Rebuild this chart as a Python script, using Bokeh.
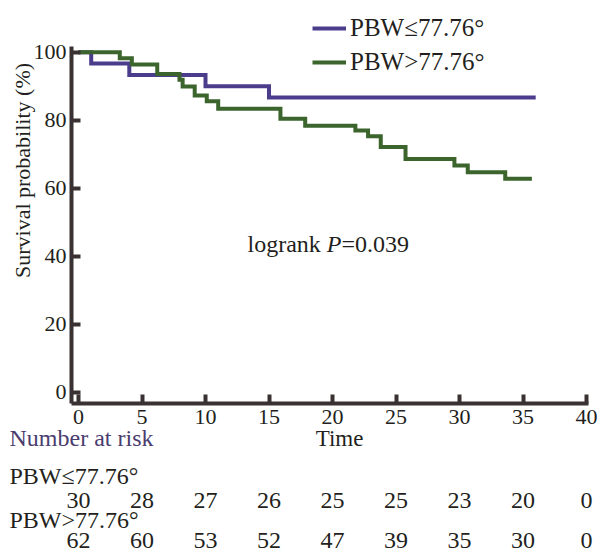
import math
from bokeh.plotting import figure
from bokeh.models import (Range1d, Legend, LegendItem, Label, FixedTicker,
                          LinearAxis)
from bokeh.embed import file_html
from bokeh.resources import INLINE
from bokeh.core.properties import value

# ---------------- data ----------------
grp1_name = "PBW\u226477.76\u00b0"
grp2_name = "PBW>77.76\u00b0"

grp1_time = [0, 1, 4, 10, 15, 36]
grp1_surv = [100, 96.7, 93.3, 90.0, 86.7, 86.7]

grp2_time = [0, 3.25, 4.2, 6.2, 7.95, 8.2, 9.15, 10.1, 11.0, 15.9, 17.85,
             21.8, 22.8, 23.8, 25.75, 29.6, 30.65, 33.6, 35.7]
grp2_surv = [100, 98.2, 96.4, 93.6, 91.9, 89.9, 87.3, 85.6, 83.4, 80.4, 78.4,
             77.0, 75.3, 72.1, 68.6, 66.7, 64.7, 62.8, 62.8]

x_ticks = [0, 5, 10, 15, 20, 25, 30, 35, 40]
y_ticks = [0, 20, 40, 60, 80, 100]

risk_times = [0, 5, 10, 15, 20, 25, 30, 35, 40]
risk_grp1 = [30, 28, 27, 26, 25, 25, 23, 20, 0]
risk_grp2 = [62, 60, 53, 52, 47, 39, 35, 30, 0]

logrank_text = ["logrank ", "P", "=0.039"]

# ---------------- style / layout ----------------
FONT = "Liberation Serif"
C1 = "#4b3c8c"
C2 = "#3c642d"
AX = "#3a3232"
TXT = "#231f20"
W, H = 599, 552
FL, FR, FT, FB = 71, 588, 46, 403      # plot-box edges (px)
X0PX, X40PX = 78.0, 586.0
Y0PX, Y100PX = 391.7, 51.7
xppu = (X40PX - X0PX) / 40.0
yppu = (Y0PX - Y100PX) / 100.0


def dx(px):
    return (px - X0PX) / xppu


def dy(py):
    return (Y0PX - py) / yppu


p = figure(width=W, height=H, x_range=Range1d(dx(0), dx(W)),
           y_range=Range1d(dy(H), dy(0)),
           x_axis_location=None, y_axis_location=None,
           min_border_left=0, min_border_right=0,
           min_border_top=0, min_border_bottom=0,
           output_backend="svg", toolbar_location=None)
p.grid.visible = False
p.outline_line_color = None
p.background_fill_color = "white"
p.border_fill_color = "white"

r1 = p.step(grp1_time, grp1_surv, mode="after", line_color=C1, line_width=4,
            line_join="miter")
r2 = p.step(grp2_time, grp2_surv, mode="after", line_color=C2, line_width=4,
            line_join="miter")

xax = LinearAxis(fixed_location=dy(FB), bounds=(dx(FL), dx(FR)),
                 ticker=FixedTicker(ticks=x_ticks))
yax = LinearAxis(fixed_location=dx(FL), bounds=(dy(FB), dy(FT)),
                 ticker=FixedTicker(ticks=y_ticks))
for ax in (xax, yax):
    ax.axis_line_color = AX
    ax.axis_line_width = 4
    ax.major_tick_line_color = AX
    ax.major_tick_line_width = 4
    ax.major_tick_in = 9
    ax.major_tick_out = 0
    ax.minor_tick_line_color = None
    ax.major_label_text_font = FONT
    ax.major_label_text_font_size = "22px"
    ax.major_label_text_color = TXT
xax.major_label_standoff = 6
yax.major_label_standoff = 5
p.add_layout(xax, "below")
p.add_layout(yax, "left")

# axis titles
p.add_layout(Label(x=dx(339), y=dy(438), text="Time", text_font=FONT,
                   text_font_size="23px", text_baseline="middle",
                   text_align="center", text_color=TXT))
p.add_layout(Label(x=dx(22), y=dy(170), text="Survival probability (%)",
                   angle=math.pi / 2, text_font=FONT, text_font_size="22px",
                   text_baseline="middle", text_align="center",
                   text_color=TXT))

legend = Legend(items=[LegendItem(label=grp1_name, renderers=[r1]),
                       LegendItem(label=grp2_name, renderers=[r2])],
                location=(312, H - 76), orientation="vertical",
                glyph_width=34, glyph_height=26, label_height=26,
                spacing=6, padding=0, margin=0, label_standoff=4,
                label_text_font=FONT, label_text_font_size="25px",
                label_text_color=TXT,
                border_line_alpha=0, background_fill_alpha=0)
p.add_layout(legend)

# logrank annotation
LFS = 24
offsets = [0, 3.305 * LFS, (3.305 + 0.611) * LFS]
styles = ["normal", "italic", "normal"]
for t, off, st in zip(logrank_text, offsets, styles):
    p.add_layout(Label(x=dx(247), y=dy(243), x_offset=off, text=t,
                       text_font=FONT, text_font_size=f"{LFS}px",
                       text_font_style=st, text_baseline="middle",
                       text_align="left", text_color=TXT))

# ---------------- risk table ----------------
p.add_layout(Label(x=dx(9), y=dy(437), text="Number at risk", text_font=FONT,
                   text_font_size="24px", text_baseline="middle",
                   text_align="left", text_color="#4a3c6e"))

row_lab_y = [dy(475), dy(519)]
row_num_y = [dy(500), dy(540)]
for name, ylab, ynum, counts in zip([grp1_name, grp2_name], row_lab_y, row_num_y,
                                    [risk_grp1, risk_grp2]):
    p.text(x=[dx(9)], y=[ylab], text=[name], text_font=value(FONT),
           text_font_size="24px", text_baseline="middle", text_align="left",
           text_color=TXT)
    p.text(x=risk_times, y=[ynum] * len(risk_times), text=[str(c) for c in counts],
           text_font=value(FONT), text_font_size="24px", text_baseline="middle",
           text_align="center", text_color=TXT)

open("out.html", "w").write(file_html(p, INLINE))
